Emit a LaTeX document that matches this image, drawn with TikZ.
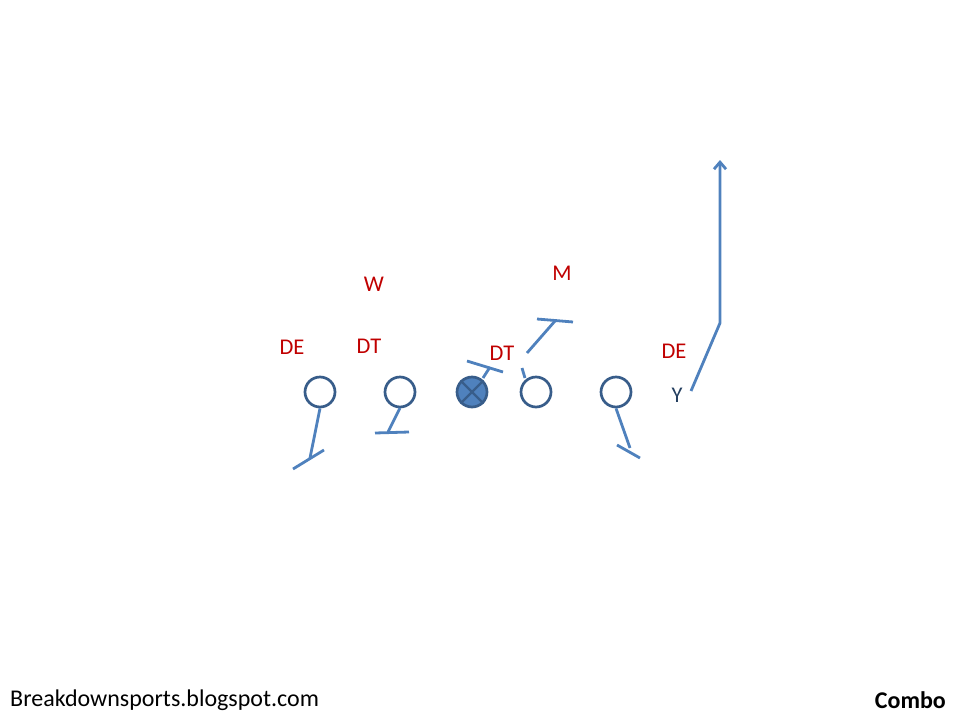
\documentclass[tikz,border=0pt]{standalone}
\usepackage{fontspec}
\setmainfont{Carlito}
\usetikzlibrary{arrows.meta}
\definecolor{route}{HTML}{4F81BD}
\definecolor{ring}{HTML}{385D8A}
\definecolor{deflab}{HTML}{C00000}
\definecolor{offlab}{HTML}{243F60}
\begin{document}
\begin{tikzpicture}[x=1pt,y=-1pt,
  player/.style={circle,draw=ring,line width=2.7pt,minimum size=30pt,inner sep=0pt,fill=white},
  center/.style={player,fill=route},
  blk/.style={draw=route,line width=2.8pt},
  dlab/.style={text=deflab,font=\fontsize{22.5}{24}\selectfont,inner sep=0pt},
  olab/.style={text=offlab,font=\fontsize{22.5}{24}\selectfont,inner sep=0pt}]
\useasboundingbox (0,0) rectangle (960,720);
% players
\node[player] (lt) at (320,392) {};
\node[player] (lg) at (400,392) {};
\node[center] (c) at (472,392) {};
\draw[ring,line width=2.4pt] (c.north west) -- (c.south east) (c.north east) -- (c.south west);
\node[player] (rg) at (536,392) {};
\node[player] (rt) at (616,392) {};
\node[olab] (y) at (677,395) {Y};
% defense labels
\node[dlab] (de1) at (292,347) {DE};
\node[dlab] (dt1) at (369,346) {DT};
\node[dlab] (w) at (374,284) {W};
\node[dlab] (dt2) at (502,353) {DT};
\node[dlab] (m) at (562,273) {M};
\node[dlab] (de2) at (674,351) {DE};
% blocks
\coordinate (a1) at (310,458);
\coordinate (a2) at (293,469);
\coordinate (a3) at (324,450);
\draw[blk] (lt.south) -- (a1);
\draw[blk] (a2) -- (a3);
\coordinate (b1) at (388,432);
\coordinate (b2) at (375,433);
\coordinate (b3) at (409,432);
\draw[blk] (400,408) -- (b1);
\draw[blk] (b2) -- (b3);
\coordinate (c1) at (490,367);
\coordinate (c2) at (467,361);
\coordinate (c3) at (503,372);
\draw[blk] (483,378) -- (c1);
\draw[blk] (c2) -- (c3);
\coordinate (d0) at (522,368);
\coordinate (d1) at (525,378);
\draw[blk] (d0) -- (d1);
\coordinate (e0) at (527,353);
\coordinate (e1) at (555,321);
\coordinate (e2) at (537,319);
\coordinate (e3) at (573,322);
\draw[blk] (e0) -- (e1);
\draw[blk] (e2) -- (e3);
\coordinate (f1) at (630,448);
\coordinate (f2) at (617,445);
\coordinate (f3) at (640,458);
\draw[blk] (rt.south) -- (f1);
\draw[blk] (f2) -- (f3);
% Y route
\coordinate (y0) at (691,391);
\coordinate (y1) at (720,323);
\coordinate (y2) at (720,160);
\draw[blk,-{Straight Barb[length=7pt,width=12pt]}] (y0) -- (y1) -- (y2);
% footer
\node[anchor=west,inner sep=0pt,font=\fontsize{24}{26}\selectfont] (site) at (10,700) {Breakdownsports.blogspot.com};
\node[anchor=east,inner sep=0pt,font=\bfseries\fontsize{24}{26}\selectfont] (title) at (946,700) {Combo};
\end{tikzpicture}
\end{document}
